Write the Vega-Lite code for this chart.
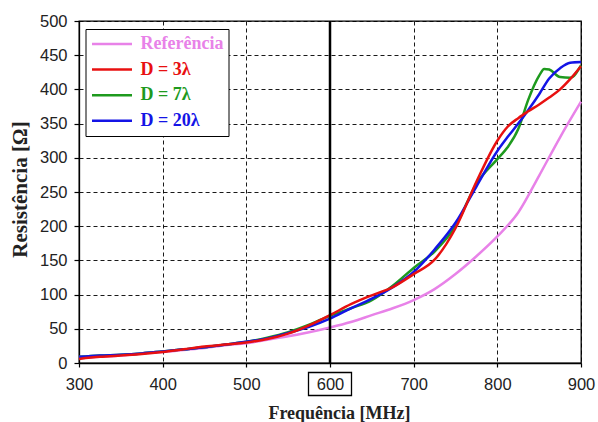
{
  "$schema": "https://vega.github.io/schema/vega-lite/v6.json",
  "width": 502,
  "height": 342,
  "autosize": {"type": "none"},
  "padding": {"left": 79, "top": 21, "right": 17, "bottom": 59},
  "background": "white",
  "config": {
    "view": {"stroke": "black", "strokeWidth": 1.3},
    "axis": {
      "domainColor": "black", "domainWidth": 1.3,
      "tickColor": "black", "tickWidth": 1.2,
      "gridColor": "black", "gridDash": [4, 3], "gridWidth": 1, "gridOpacity": 0.9,
      "labelFont": "Liberation Sans", "labelFontSize": 16.5, "labelColor": "#222",
      "labelOverlap": false, "labelFlush": false,
      "titleFont": "Liberation Serif", "titleFontWeight": "bold", "titleFontSize": 18, "titleColor": "#222"
    },
    "axisX": {"tickSize": 4, "labelPadding": 9, "titleX": 260, "titleY": 55, "titleBaseline": "alphabetic"},
    "axisY": {"tickSize": 5, "labelPadding": 7, "titleX": -53, "titleY": 168, "titleBaseline": "alphabetic", "titleFontSize": 21}
  },
  "data": {"values": [
    {"f":300,"r":7,"s":"Referência"},{"f":325,"r":9,"s":"Referência"},{"f":350,"r":11,"s":"Referência"},{"f":375,"r":14,"s":"Referência"},{"f":400,"r":16,"s":"Referência"},{"f":425,"r":19,"s":"Referência"},{"f":450,"r":22,"s":"Referência"},{"f":475,"r":26,"s":"Referência"},{"f":500,"r":29,"s":"Referência"},{"f":525,"r":34,"s":"Referência"},{"f":550,"r":39,"s":"Referência"},{"f":575,"r":45,"s":"Referência"},{"f":600,"r":52,"s":"Referência"},{"f":625,"r":60,"s":"Referência"},{"f":650,"r":70,"s":"Referência"},{"f":675,"r":80,"s":"Referência"},{"f":700,"r":92,"s":"Referência"},{"f":725,"r":108,"s":"Referência"},{"f":750,"r":130,"s":"Referência"},{"f":775,"r":156,"s":"Referência"},{"f":800,"r":185,"s":"Referência"},{"f":825,"r":220,"s":"Referência"},{"f":850,"r":274,"s":"Referência"},{"f":875,"r":330,"s":"Referência"},{"f":900,"r":382,"s":"Referência"},

    {"f":300,"r":9,"s":"D = 7λ"},{"f":325,"r":11,"s":"D = 7λ"},{"f":350,"r":12,"s":"D = 7λ"},{"f":375,"r":14,"s":"D = 7λ"},{"f":400,"r":17,"s":"D = 7λ"},{"f":425,"r":20,"s":"D = 7λ"},{"f":450,"r":23,"s":"D = 7λ"},{"f":475,"r":27,"s":"D = 7λ"},{"f":500,"r":31,"s":"D = 7λ"},{"f":525,"r":37,"s":"D = 7λ"},{"f":550,"r":45,"s":"D = 7λ"},{"f":575,"r":56,"s":"D = 7λ"},{"f":600,"r":69,"s":"D = 7λ"},{"f":625,"r":80,"s":"D = 7λ"},{"f":650,"r":92,"s":"D = 7λ"},{"f":675,"r":113,"s":"D = 7λ"},{"f":700,"r":139,"s":"D = 7λ"},{"f":725,"r":163,"s":"D = 7λ"},{"f":750,"r":200,"s":"D = 7λ"},{"f":775,"r":262,"s":"D = 7λ"},{"f":800,"r":298,"s":"D = 7λ"},{"f":812,"r":315,"s":"D = 7λ"},{"f":825,"r":342,"s":"D = 7λ"},{"f":837,"r":385,"s":"D = 7λ"},{"f":850,"r":420,"s":"D = 7λ"},{"f":856,"r":430,"s":"D = 7λ"},{"f":862,"r":429,"s":"D = 7λ"},{"f":875,"r":418,"s":"D = 7λ"},{"f":887,"r":417,"s":"D = 7λ"},{"f":900,"r":435,"s":"D = 7λ"},

    {"f":300,"r":9,"s":"D = 20λ"},{"f":325,"r":11,"s":"D = 20λ"},{"f":350,"r":12,"s":"D = 20λ"},{"f":375,"r":14,"s":"D = 20λ"},{"f":400,"r":17,"s":"D = 20λ"},{"f":425,"r":20,"s":"D = 20λ"},{"f":450,"r":23,"s":"D = 20λ"},{"f":475,"r":27,"s":"D = 20λ"},{"f":500,"r":31,"s":"D = 20λ"},{"f":525,"r":36,"s":"D = 20λ"},{"f":550,"r":44,"s":"D = 20λ"},{"f":575,"r":53,"s":"D = 20λ"},{"f":600,"r":65,"s":"D = 20λ"},{"f":625,"r":80,"s":"D = 20λ"},{"f":650,"r":94,"s":"D = 20λ"},{"f":675,"r":111,"s":"D = 20λ"},{"f":700,"r":133,"s":"D = 20λ"},{"f":725,"r":166,"s":"D = 20λ"},{"f":750,"r":205,"s":"D = 20λ"},{"f":775,"r":258,"s":"D = 20λ"},{"f":800,"r":310,"s":"D = 20λ"},{"f":812,"r":330,"s":"D = 20λ"},{"f":825,"r":350,"s":"D = 20λ"},{"f":837,"r":370,"s":"D = 20λ"},{"f":850,"r":393,"s":"D = 20λ"},{"f":862,"r":416,"s":"D = 20λ"},{"f":875,"r":431,"s":"D = 20λ"},{"f":887,"r":439,"s":"D = 20λ"},{"f":900,"r":440,"s":"D = 20λ"},

    {"f":300,"r":6,"s":"D = 3λ"},{"f":325,"r":9,"s":"D = 3λ"},{"f":350,"r":11,"s":"D = 3λ"},{"f":375,"r":13,"s":"D = 3λ"},{"f":400,"r":16,"s":"D = 3λ"},{"f":425,"r":20,"s":"D = 3λ"},{"f":450,"r":24,"s":"D = 3λ"},{"f":475,"r":27,"s":"D = 3λ"},{"f":500,"r":30,"s":"D = 3λ"},{"f":525,"r":35,"s":"D = 3λ"},{"f":550,"r":43,"s":"D = 3λ"},{"f":575,"r":55,"s":"D = 3λ"},{"f":600,"r":70,"s":"D = 3λ"},{"f":625,"r":86,"s":"D = 3λ"},{"f":650,"r":99,"s":"D = 3λ"},{"f":675,"r":111,"s":"D = 3λ"},{"f":700,"r":130,"s":"D = 3λ"},{"f":725,"r":151,"s":"D = 3λ"},{"f":750,"r":197,"s":"D = 3λ"},{"f":775,"r":265,"s":"D = 3λ"},{"f":800,"r":325,"s":"D = 3λ"},{"f":812,"r":345,"s":"D = 3λ"},{"f":825,"r":358,"s":"D = 3λ"},{"f":837,"r":368,"s":"D = 3λ"},{"f":850,"r":378,"s":"D = 3λ"},{"f":862,"r":388,"s":"D = 3λ"},{"f":875,"r":400,"s":"D = 3λ"},{"f":887,"r":415,"s":"D = 3λ"},{"f":900,"r":434,"s":"D = 3λ"}
  ]},
  "layer": [
    {
      "mark": {"type": "line", "interpolate": "monotone", "strokeWidth": 2.5},
      "encoding": {
        "x": {"field": "f", "type": "quantitative", "scale": {"domain": [300, 900], "nice": false},
          "title": "Frequência [MHz]", "axis": {"values": [300,400,500,600,700,800,900]}},
        "y": {"field": "r", "type": "quantitative", "scale": {"domain": [0, 500], "nice": false},
          "title": "Resistência [Ω]", "axis": {"values": [0,50,100,150,200,250,300,350,400,450,500]}},
        "color": {"field": "s", "type": "nominal",
          "scale": {"domain": ["Referência", "D = 3λ", "D = 7λ", "D = 20λ"], "range": ["#E882E8", "#E81010", "#1E9A1E", "#1414E6"]},
          "legend": {"title": null, "orient": "none", "legendX": 6.5, "legendY": 8,
            "strokeColor": "black", "fillColor": "white", "padding": 5,
            "symbolType": "stroke", "symbolSize": 1600, "symbolStrokeWidth": 2.5,
            "labelFont": "Liberation Serif", "labelFontWeight": "bold", "labelFontSize": 18, "labelOffset": 7,
            "clipHeight": 20, "rowPadding": 5.6,
            "encode": {"labels": {"update": {"fill": {"scale": "color", "field": "value"}}}}}}
      }
    },
    {
      "data": {"values": [{"f": 600}]},
      "mark": {"type": "rule", "color": "black", "strokeWidth": 2.5},
      "encoding": {"x": {"field": "f", "type": "quantitative", "title": "Frequência [MHz]", "axis": {"values": [300,400,500,600,700,800,900]}}}
    },
    {
      "data": {"values": [{"f": 600, "r": 0}]},
      "mark": {"type": "point", "shape": "M-1,-0.535H1V0.535H-1Z", "filled": false, "size": 1849,
        "stroke": "black", "strokeWidth": 1.3, "opacity": 1, "yOffset": 21, "clip": false},
      "encoding": {
        "x": {"field": "f", "type": "quantitative", "title": "Frequência [MHz]", "axis": {"values": [300,400,500,600,700,800,900]}},
        "y": {"field": "r", "type": "quantitative", "title": "Resistência [Ω]", "axis": {"values": [0,50,100,150,200,250,300,350,400,450,500]}}
      }
    }
  ]
}
